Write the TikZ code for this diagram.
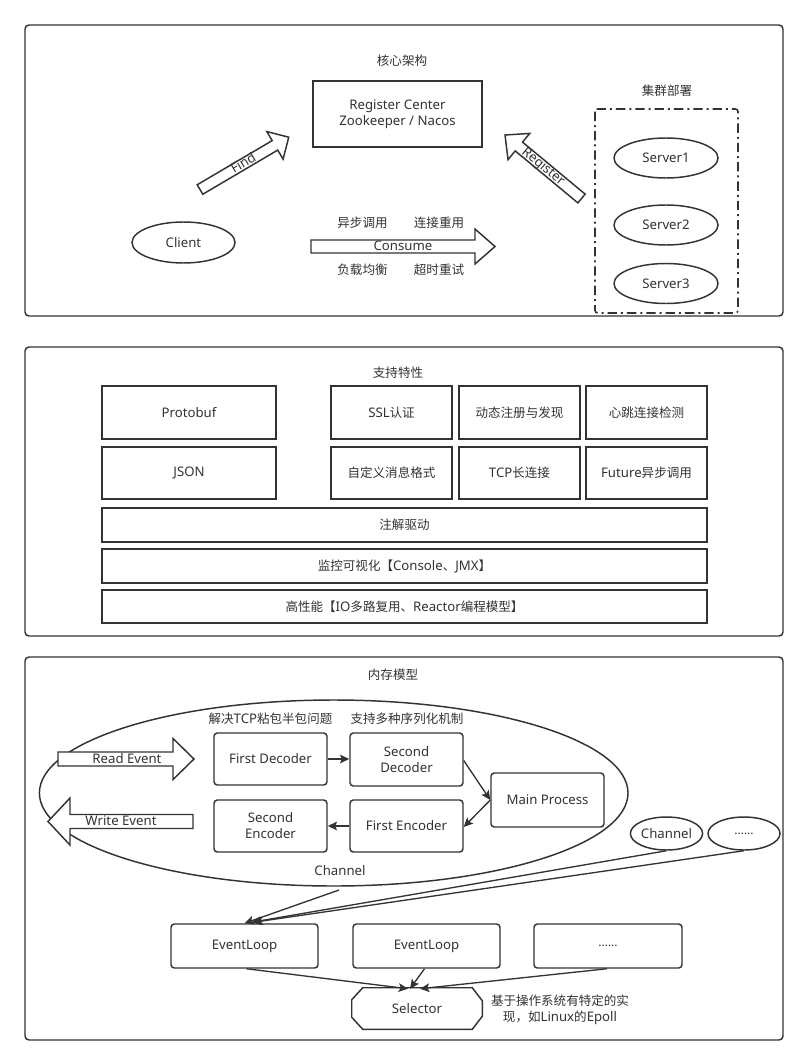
\documentclass[tikz,border=0pt]{standalone}
\usepackage{fontspec}
\setmainfont{Noto Sans}
\newfontfamily\cjkf{Noto Sans CJK SC}[Scale=0.95]
\newcommand\zh[1]{{\cjkf #1}}
\usetikzlibrary{calc,arrows.meta,shapes.geometric}
\definecolor{ln}{HTML}{333333}
\newcommand\mkbox[7]{% style, name, x1, y1, x2, y2, text
  \node[#1, minimum width={(#5-#3)*0.75pt}, minimum height={(#6-#4)*0.75pt}] (#2) at ({(#3+#5)/2},{(#4+#6)/2}) {#7};}
\newcommand\mkell[6]{% name, cx, cy, rx, ry, text
  \node[ell, minimum width={2*#4*0.75pt}, minimum height={2*#5*0.75pt}] (#1) at (#2,#3) {#6};}
\newcommand\blkarrow[7]{% x, y, angle, L, s, h, a
  \begin{scope}[shift={(#1,#2)}, rotate=#3]
    \draw[blk] (0,-#5) -- ({#4-#7},-#5) -- ({#4-#7},-#6) -- (#4,0) -- ({#4-#7},#6) -- ({#4-#7},#5) -- (0,#5) -- cycle;
  \end{scope}}
\begin{document}
\begin{tikzpicture}[x=0.75pt,y=-0.75pt,
  every node/.style={font=\fontsize{9.9}{12}\selectfont, text=ln},
  panel/.style={draw=ln, line width=1.1pt, rounded corners=3pt},
  box/.style={draw=ln, line width=1.1pt, inner sep=0pt, align=center},
  rbox/.style={box, rounded corners=2.5pt},
  ell/.style={draw=ln, line width=1.1pt, ellipse, inner sep=0pt, align=center},
  conn/.style={draw=ln, line width=1pt, -{Stealth[length=7pt,width=6.5pt,inset=1.5pt]}},
  blk/.style={draw=ln, line width=1.1pt, fill=white, line join=miter},
  lbl/.style={inner sep=0pt, align=center}
]
\fill[white] (0,0) rectangle (810,1063);
\useasboundingbox (0,0) rectangle (810,1063);

% ---------------- Panel 1 ----------------
\draw[panel] (25,25) rectangle (783,316);
\node[lbl] (t1) at (402,61) {\zh{核心架构}};
\mkbox{box}{rc}{313}{81}{482}{147}{Register Center\\Zookeeper / Nacos}
\mkell{client}{183.5}{242.5}{51.5}{20.5}{Client}

\blkarrow{200}{189.5}{30.5}{103}{5.5}{16}{16}
\node[lbl, rotate=30.5] (findl) at (243,163) {Find};

\blkarrow{581.5}{198.5}{140.3}{99.4}{5.7}{17}{18}
\node[lbl, rotate=-39.7] (regl) at (543,167) {Register};

\blkarrow{311}{246.5}{0}{184}{6.5}{17.5}{20}
\node[lbl] (consl) at (403,246) {Consume};
\node[lbl] (c1) at (362.5,223) {\zh{异步调用}};
\node[lbl] (c2) at (439,223) {\zh{连接重用}};
\node[lbl] (c3) at (362.5,270) {\zh{负载均衡}};
\node[lbl] (c4) at (439,270) {\zh{超时重试}};

\node[lbl] (t1b) at (667,91) {\zh{集群部署}};
\draw[draw=ln, line width=1.2pt, rounded corners=2pt, dash pattern=on 7pt off 3pt on 1.5pt off 3pt] (595,109) rectangle (738,313);
\mkell{s1}{666}{158}{52}{20}{Server1}
\mkell{s2}{666}{225}{52}{20}{Server2}
\mkell{s3}{666}{283.5}{52}{20}{Server3}

% ---------------- Panel 2 ----------------
\draw[panel] (25,347) rectangle (783,636);
\node[lbl] (t2) at (398,373) {\zh{支持特性}};
\mkbox{box}{pb}{102}{386}{276}{439}{Protobuf}
\mkbox{box}{js}{102}{447}{276}{499}{JSON}
\mkbox{box}{ssl}{331}{386}{452}{439}{SSL\zh{认证}}
\mkbox{box}{dyn}{459}{386}{580}{439}{\zh{动态注册与发现}}
\mkbox{box}{hb}{586}{386}{707}{439}{\zh{心跳连接检测}}
\mkbox{box}{cm}{331}{447}{452}{499}{\zh{自定义消息格式}}
\mkbox{box}{tcp}{459}{447}{580}{499}{TCP\zh{长连接}}
\mkbox{box}{fut}{586}{447}{707}{499}{Future\zh{异步调用}}
\mkbox{box}{ann}{102}{508}{707}{542}{\zh{注解驱动}}
\mkbox{box}{mon}{102}{549}{707}{583}{\zh{监控可视化【}Console\zh{、}JMX\zh{】}}
\mkbox{box}{perf}{102}{590}{707}{623}{\zh{高性能【}IO\zh{多路复用、}Reactor\zh{编程模型】}}

% ---------------- Panel 3 ----------------
\draw[panel] (25,657) rectangle (783,1040);
\node[lbl] (t3) at (393,675) {\zh{内存模型}};
\mkell{chan}{333.7}{793}{294.3}{93}{}
\node[lbl] (l1) at (270.5,719) {\zh{解决}TCP\zh{粘包半包问题}};
\node[lbl] (l2) at (407,719) {\zh{支持多种序列化机制}};
\node[lbl] (chl) at (340,871) {Channel};

\mkbox{rbox}{fd}{214}{733}{327}{785}{First Decoder}
\mkbox{rbox}{sd}{350}{733}{463}{786}{Second\\Decoder}
\mkbox{rbox}{mp}{491}{773}{604}{827}{Main Process}
\mkbox{rbox}{fe}{350}{800}{463}{852}{First Encoder}
\mkbox{rbox}{se}{214}{800}{327}{852}{Second\\Encoder}

\blkarrow{58}{759}{0}{136}{7}{20.5}{21}
\node[lbl] (rel) at (127,759) {Read Event};
\blkarrow{193}{821.5}{180}{145}{7}{23.5}{22}
\node[lbl] (wel) at (121,821) {Write Event};

\draw[conn] (fd.east) -- (sd.west |- fd.east);
\draw[conn] ($(sd.east)+(0,1)$) -- ($(mp.west)+(0,0)$);
\draw[conn] (mp.west) -- ($(fe.east)+(0,1)$);
\draw[conn] (fe.west) -- (se.east |- fe.west);

\mkell{ch2}{666.5}{833.5}{35.5}{16.5}{Channel}
\mkell{dots}{744}{833.5}{36}{16.5}{\small ......}

\mkbox{rbox}{el1}{171}{924}{318}{968}{EventLoop}
\mkbox{rbox}{el2}{353}{924}{500}{968}{EventLoop}
\mkbox{rbox}{el3}{534}{924}{682}{968}{\small ......}

\node[minimum width={130*0.75pt}, minimum height={41*0.75pt}, inner sep=0pt] (sel) at (417,1008.5) {Selector};
\draw[draw=ln, line width=1.1pt] ($(sel.north west)+(11,0)$) -- ($(sel.north east)+(-10,0)$) -- ($(sel.north east)+(0,13)$) -- ($(sel.south east)+(0,-13)$) -- ($(sel.south east)+(-10,0)$) -- ($(sel.south west)+(11,0)$) -- ($(sel.south west)+(0,-12)$) -- ($(sel.north west)+(0,12)$) -- cycle;
\node[lbl] (selnote) at (560,1010) {\zh{基于操作系统有特定的实}\\\zh{现，如}Linux\zh{的}Epoll};

\coordinate (chout) at (339,890);
\draw[conn] (chout) -- (el1.north);
\draw[conn] (ch2.south) -- ($(el1.north)+(7,-1)$);
\draw[conn] (dots.south) -- ($(el1.north)+(9,-1)$);

\draw[conn] ($(el1.south)+(2,0)$) -- ($(sel.north)+(-9,1)$);
\draw[conn] ($(el2.south)+(-2,0)$) -- ($(sel.north)+(-7,1)$);
\draw[conn] ($(el3.south)+(-1,0)$) -- ($(sel.north)+(3,1)$);
\end{tikzpicture}
\end{document}
